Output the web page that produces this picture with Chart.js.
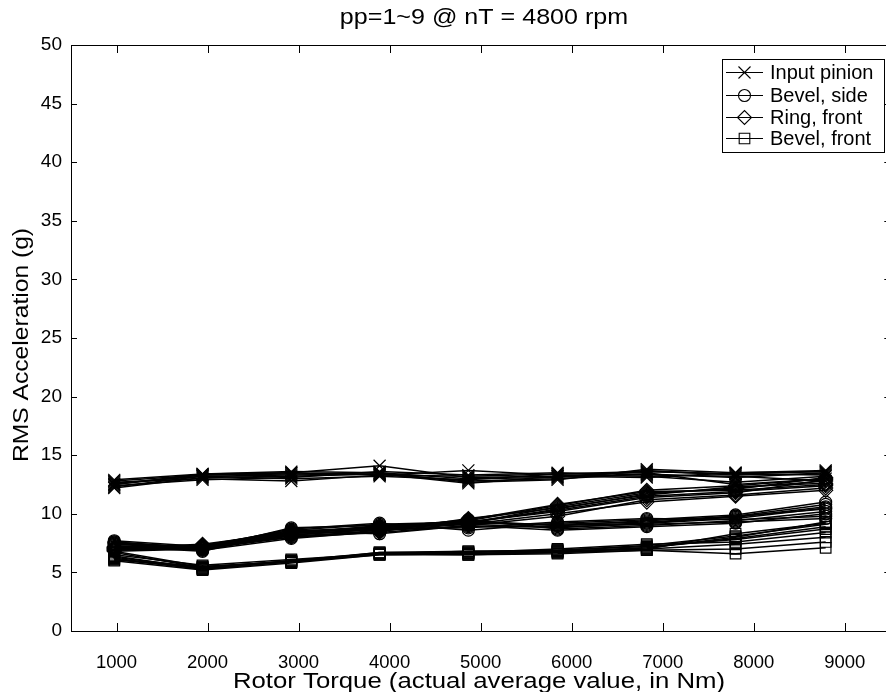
<!DOCTYPE html>
<html>
<head>
<meta charset="utf-8">
<script src="https://cdn.jsdelivr.net/npm/chart.js@4.4.1/dist/chart.umd.min.js"></script>
<style>
html,body{margin:0;padding:0;background:#fff;overflow:hidden;}
#wrap{width:886px;height:692px;overflow:hidden;position:relative;}
canvas{display:block;}
</style>
</head>
<body>
<div id="wrap"><canvas id="c" width="900" height="692"></canvas></div>
<script>
// ---- data ----
const titleText = "pp=1~9 @ nT = 4800 rpm";
const xTitle = "Rotor Torque (actual average value, in Nm)";
const yTitle = "RMS Acceleration (g)";
const torque = [975, 1945, 2920, 3890, 4865, 5845, 6825, 7800, 8790];
const xTicks = [1000, 2000, 3000, 4000, 5000, 6000, 7000, 8000, 9000];
const yTicks = [0, 5, 10, 15, 20, 25, 30, 35, 40, 45, 50];
const seriesNames = ["Input pinion", "Bevel, side", "Ring, front", "Bevel, front"];

const inputPinion = [
  [12.3, 13.2, 13.3, 13.4, 12.8, 13.0, 13.4, 13.1, 13.5],
  [12.5, 13.3, 13.5, 14.1, 13.1, 13.2, 13.6, 13.4, 13.6],
  [12.7, 13.0, 12.8, 13.3, 13.7, 13.3, 13.2, 12.7, 13.2],
  [12.9, 13.4, 13.6, 13.5, 12.7, 12.9, 13.8, 13.5, 13.7],
  [12.4, 12.9, 13.1, 13.6, 13.3, 13.5, 13.3, 13.2, 12.8],
  [12.6, 13.2, 13.0, 13.2, 12.9, 13.4, 13.5, 12.5, 13.0],
  [12.8, 13.3, 13.4, 13.5, 13.0, 13.1, 13.7, 13.3, 13.4],
  [12.2, 13.1, 13.2, 13.4, 12.6, 13.2, 13.1, 13.5, 13.6],
  [12.5, 13.4, 13.5, 13.3, 13.2, 13.4, 13.6, 13.4, 13.3]
];
const bevelSide = [
  [7.6, 7.1, 8.6, 9.1, 9.3, 9.0, 9.4, 9.8, 10.8],
  [7.4, 7.0, 8.4, 8.9, 9.1, 8.8, 9.2, 9.6, 10.5],
  [7.7, 7.2, 8.7, 9.2, 8.6, 9.2, 9.5, 9.9, 11.0],
  [7.3, 6.9, 7.9, 8.5, 9.5, 8.7, 9.0, 9.4, 10.2],
  [7.5, 7.1, 8.2, 8.7, 8.8, 9.3, 9.6, 9.5, 9.8],
  [7.2, 6.8, 8.5, 8.3, 9.0, 8.6, 8.9, 9.2, 10.0],
  [7.6, 7.0, 8.8, 9.0, 9.2, 9.1, 9.3, 9.7, 10.6],
  [7.4, 7.2, 8.0, 8.6, 8.9, 8.9, 9.1, 9.3, 9.6],
  [7.5, 6.9, 8.3, 8.8, 9.4, 9.0, 9.2, 9.8, 10.4]
];
const ringFront = [
  [7.0, 7.3, 8.5, 8.9, 9.4, 10.7, 12.0, 12.4, 13.0],
  [6.9, 7.1, 8.2, 8.7, 9.2, 10.4, 11.7, 12.2, 12.8],
  [7.1, 7.4, 8.4, 8.8, 9.5, 10.8, 11.9, 12.0, 12.5],
  [6.8, 7.0, 8.0, 8.4, 9.0, 9.8, 11.2, 11.6, 12.2],
  [7.2, 7.2, 8.3, 9.0, 9.3, 10.2, 11.4, 11.8, 12.9],
  [7.0, 7.3, 8.6, 8.6, 9.1, 10.0, 11.0, 11.5, 12.0],
  [6.9, 7.1, 8.1, 8.5, 9.6, 10.5, 11.6, 12.3, 12.6],
  [7.1, 7.2, 8.4, 8.8, 9.2, 10.6, 11.8, 12.1, 13.1],
  [7.0, 7.0, 8.2, 8.7, 9.3, 10.3, 11.5, 11.9, 12.4]
];
const bevelFront = [
  [6.1, 5.3, 5.9, 6.6, 6.6, 6.8, 7.0, 8.3, 9.2],
  [6.3, 5.4, 6.0, 6.6, 6.5, 6.7, 7.1, 7.9, 8.9],
  [6.8, 5.5, 5.9, 6.7, 6.8, 6.9, 7.3, 8.1, 9.1],
  [6.0, 5.2, 5.8, 6.5, 6.5, 6.6, 6.9, 6.6, 7.1],
  [6.5, 5.6, 6.1, 6.6, 6.7, 7.0, 7.4, 7.6, 8.4],
  [6.2, 5.3, 5.9, 6.6, 6.6, 6.8, 7.0, 7.4, 8.0],
  [6.7, 5.4, 6.0, 6.7, 6.7, 6.9, 7.2, 7.8, 8.7],
  [6.1, 5.5, 5.9, 6.5, 6.6, 6.7, 6.9, 7.0, 7.6],
  [6.4, 5.3, 6.0, 6.6, 6.8, 6.8, 7.1, 8.0, 9.3]
];

// ---- styles ----
const FONT = "'Liberation Sans', Arial, Helvetica, sans-serif";
const markers = [
  {pointStyle: 'crossRot', radius: 8.5},
  {pointStyle: 'circle', radius: 6},
  {pointStyle: 'rectRot', radius: 7},
  {pointStyle: 'rect', radius: 7.5}
];
const groups = [inputPinion, bevelSide, ringFront, bevelFront];

const datasets = [];
for (let run = 0; run < 9; run++) {
  groups.forEach((g, gi) => {
    datasets.push({
      label: seriesNames[gi] + ' ' + (run + 1),
      data: torque.map((t, i) => ({x: t, y: g[run][i]})),
      borderColor: '#000',
      borderWidth: 1.5,
      pointStyle: markers[gi].pointStyle,
      pointRadius: markers[gi].radius,
      pointBorderWidth: 1.2,
      pointBorderColor: '#000',
      pointBackgroundColor: 'rgba(0,0,0,0)',
      tension: 0,
      fill: false
    });
  });
}

function stretchedText(ctx, text, cx, cy, size, sx, rot) {
  ctx.save();
  ctx.translate(cx, cy);
  if (rot) ctx.rotate(rot);
  ctx.scale(sx, 1);
  ctx.font = size + 'px ' + FONT;
  ctx.textAlign = 'center';
  ctx.textBaseline = 'middle';
  ctx.fillStyle = '#000';
  ctx.fillText(text, 0, 0);
  ctx.restore();
}

const frame = {
  id: 'frame',
  afterDraw(chart) {
    const ctx = chart.ctx, a = chart.chartArea;
    const xs = chart.scales.x, ys = chart.scales.y;
    ctx.save();
    ctx.strokeStyle = '#000';
    ctx.lineWidth = 1;
    // box
    ctx.beginPath();
    ctx.moveTo(a.left + 0.5, a.bottom + 0.5);
    ctx.lineTo(a.left + 0.5, a.top + 0.5);
    ctx.lineTo(a.right + 0.5, a.top + 0.5);
    ctx.lineTo(a.right + 0.5, a.bottom + 0.5);
    ctx.closePath();
    ctx.stroke();
    // inward ticks
    ctx.beginPath();
    xTicks.forEach(v => {
      const px = Math.round(xs.getPixelForValue(v)) + 0.5;
      ctx.moveTo(px, a.bottom); ctx.lineTo(px, a.bottom - 8);
      ctx.moveTo(px, a.top); ctx.lineTo(px, a.top + 8);
    });
    yTicks.forEach(v => {
      const py = Math.round(ys.getPixelForValue(v)) + 0.5;
      ctx.moveTo(a.left, py); ctx.lineTo(a.left + 6, py);
      ctx.moveTo(a.right, py); ctx.lineTo(a.right - 6, py);
    });
    ctx.stroke();

    // titles
    stretchedText(ctx, titleText, 484, 18, 22, 1.14, 0);
    stretchedText(ctx, xTitle, 479, 682, 22, 1.17, 0);
    stretchedText(ctx, yTitle, 22, 345, 22, 1.12, -Math.PI / 2);

    // legend
    const lx = 722, ly = 59, lw = 162, lh = 93;
    ctx.fillStyle = '#fff';
    ctx.fillRect(lx, ly, lw, lh);
    ctx.strokeRect(lx + 0.5, ly + 0.5, lw, lh);
    const rows = [72, 95, 117, 138];
    seriesNames.forEach((name, i) => {
      const y = rows[i];
      ctx.beginPath();
      ctx.lineWidth = 1.1;
      ctx.moveTo(726, y + 0.5); ctx.lineTo(763, y + 0.5);
      ctx.stroke();
      ctx.lineWidth = 1.1;
      ctx.fillStyle = 'rgba(0,0,0,0)';
      Chart.helpers.drawPoint(ctx, {pointStyle: markers[i].pointStyle, radius: markers[i].radius, rotation: 0, borderWidth: 1.1}, 744.5, y + 0.5);
      ctx.fillStyle = '#000';
      ctx.textAlign = 'left';
      ctx.textBaseline = 'middle';
      ctx.font = '20px ' + FONT;
      ctx.fillText(name, 770, y + 1);
    });
    ctx.restore();
  }
};

new Chart(document.getElementById('c'), {
  type: 'line',
  data: {datasets},
  options: {
    responsive: false,
    animation: false,
    devicePixelRatio: 1,
    layout: {padding: {top: 45, left: 0, right: 3, bottom: 0}},
    plugins: {legend: {display: false}, title: {display: false}, tooltip: {enabled: false}},
    scales: {
      x: {
        type: 'linear', min: 500, max: 9500,
        afterBuildTicks: s => { s.ticks = xTicks.map(v => ({value: v})); },
        afterFit: s => { s.height = 61; },
        grid: {display: false, drawTicks: false},
        border: {display: false},
        ticks: {color: '#000', font: {size: 18.5, family: FONT}, padding: 21, maxRotation: 0, autoSkip: false,
                callback: v => String(v)}
      },
      y: {
        type: 'linear', min: 0, max: 50,
        afterBuildTicks: s => { s.ticks = yTicks.map(v => ({value: v})); },
        afterFit: s => { s.width = 71; },
        grid: {display: false, drawTicks: false},
        border: {display: false},
        ticks: {color: '#000', font: {size: 19, family: FONT}, padding: 9, callback: v => String(v)}
      }
    }
  },
  plugins: [frame]
});
</script>
</body>
</html>
